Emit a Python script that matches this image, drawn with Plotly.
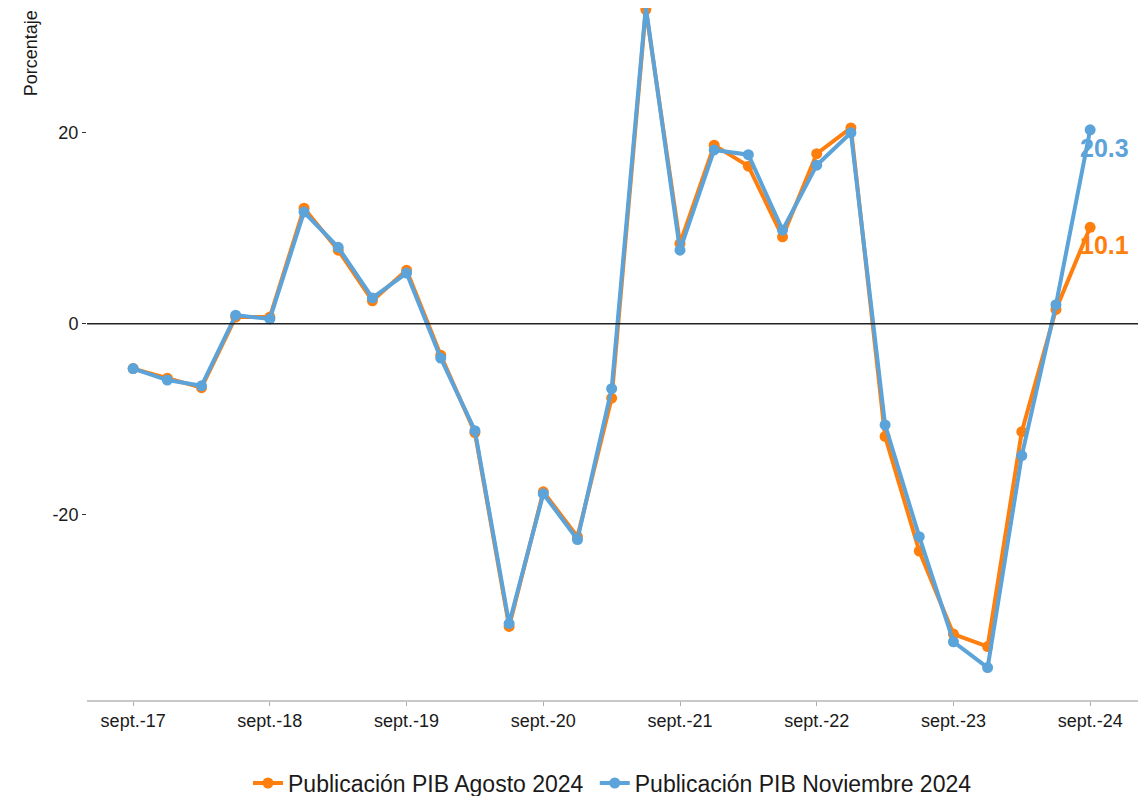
import plotly.graph_objects as go

# Quarterly periods, sept-17 to sept-24
quarters = [
    "2017-09", "2017-12", "2018-03", "2018-06", "2018-09", "2018-12", "2019-03", "2019-06",
    "2019-09", "2019-12", "2020-03", "2020-06", "2020-09", "2020-12", "2021-03", "2021-06",
    "2021-09", "2021-12", "2022-03", "2022-06", "2022-09", "2022-12", "2023-03", "2023-06",
    "2023-09", "2023-12", "2024-03", "2024-06", "2024-09",
]

pib_agosto = [
    -4.7, -5.7, -6.7, 0.7, 0.7, 12.1, 7.7, 2.4,
    5.6, -3.3, -11.4, -31.7, -17.6, -22.3, -7.8, 32.9,
    8.4, 18.7, 16.5, 9.1, 17.8, 20.5, -11.8, -23.8,
    -32.5, -33.8, -11.3, 1.5, 10.1,
]

pib_noviembre = [
    -4.7, -5.9, -6.5, 0.9, 0.5, 11.7, 8.0, 2.7,
    5.3, -3.6, -11.2, -31.4, -17.8, -22.6, -6.8, 33.2,
    7.7, 18.2, 17.7, 9.8, 16.6, 20.0, -10.6, -22.3,
    -33.3, -36.0, -13.8, 2.0, 20.3,
]

x_tick_vals = ["2017-09", "2018-09", "2019-09", "2020-09", "2021-09", "2022-09", "2023-09", "2024-09"]
x_tick_text = ["sept.-17", "sept.-18", "sept.-19", "sept.-20", "sept.-21", "sept.-22", "sept.-23", "sept.-24"]
y_tick_vals = [-20, 0, 20]
y_tick_text = ["-20", "0", "20"]

ORANGE = "#FF7F0E"
BLUE = "#5BA3D9"

fig = go.Figure()
fig.add_trace(go.Scatter(
    x=quarters, y=pib_agosto, mode="lines+markers",
    name="Publicación PIB Agosto 2024 ", cliponaxis=False,
    line=dict(color=ORANGE, width=4), marker=dict(color=ORANGE, size=11),
))
fig.add_trace(go.Scatter(
    x=quarters, y=pib_noviembre, mode="lines+markers",
    name="Publicación PIB Noviembre 2024", cliponaxis=False,
    line=dict(color=BLUE, width=4), marker=dict(color=BLUE, size=11),
))

# end-of-series value labels
for series, color in [(pib_noviembre, BLUE), (pib_agosto, ORANGE)]:
    fig.add_annotation(
        x=quarters[-1], y=series[-1], text=f"<b>{series[-1]:.1f}</b>",
        showarrow=False, xanchor="left", yanchor="middle", xshift=-12, yshift=-18,
        font=dict(color=color, size=25, family="Liberation Sans"),
    )

fig.add_annotation(
    text="Porcentaje", xref="paper", yref="paper", x=-0.053, y=1.0,
    xanchor="center", yanchor="top", textangle=-90, showarrow=False,
    font=dict(size=18, color="#1a1a1a"),
)

fig.add_hline(y=0, line=dict(color="#222222", width=1.5))

# page body adds an 8px offset, so the figure is sized to fit the window
fig.update_layout(
    width=1138, height=788,
    margin=dict(l=79, r=8, t=0, b=96, autoexpand=False),
    plot_bgcolor="white", paper_bgcolor="white",
    font=dict(family="Liberation Sans", size=18, color="#1a1a1a"),
    showlegend=True,
    legend=dict(orientation="h", x=0.5, xanchor="center", y=-0.12, yanchor="middle",
                font=dict(size=23)),
    xaxis=dict(
        type="category", categoryorder="array", categoryarray=quarters,
        tickmode="array", tickvals=x_tick_vals, ticktext=x_tick_text,
        range=[-1.35, 29.4], showgrid=False, zeroline=False,
        showline=True, linecolor="#c8c8c8", linewidth=1.5,
        ticks="outside", ticklen=4, tickcolor="#aaaaaa", automargin=False,
    ),
    yaxis=dict(
        range=[-39.4, 33.06], tickmode="array", tickvals=y_tick_vals, ticktext=y_tick_text,
        showgrid=False, zeroline=False, showline=False,
        ticks="outside", ticklen=4, tickcolor="#333333", automargin=False,
    ),
)

fig.write_html("out.html")
